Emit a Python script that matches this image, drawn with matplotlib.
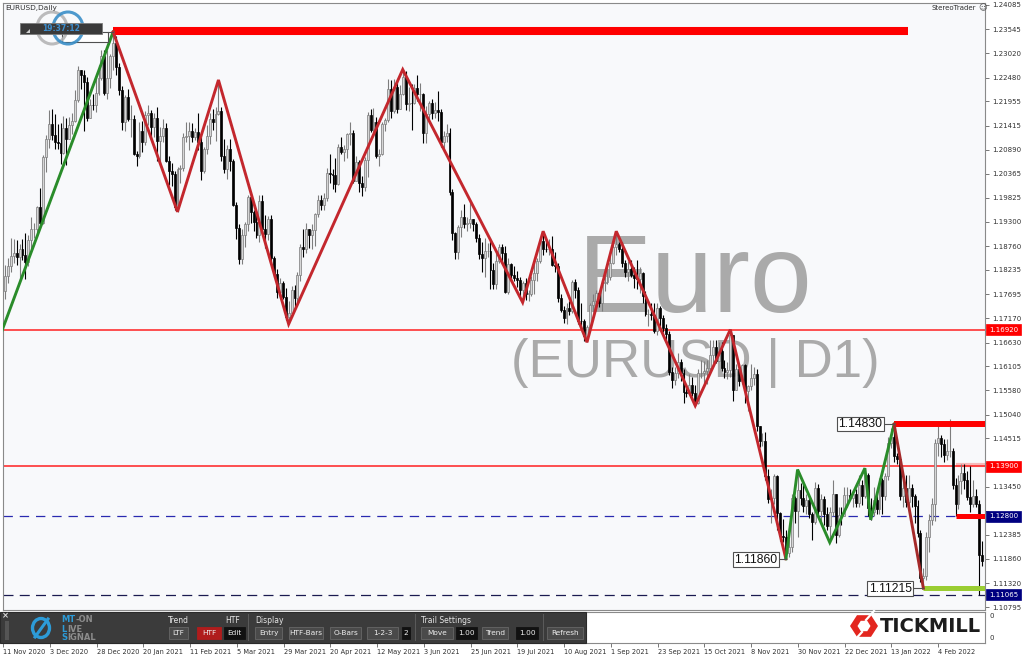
import matplotlib
matplotlib.use('Agg')
import matplotlib.pyplot as plt
import matplotlib.transforms as mtransforms
from matplotlib.patches import Rectangle, Ellipse, Polygon
import numpy as np

W, H = 1024, 658

# ---------------- data (EURUSD daily) ----------------
first_open = 1.1814
closes = [
    1.1777, 1.1811, 1.1833, 1.1855, 1.1860, 1.1852, 1.1870, 1.1857, 1.1841, 1.1890,
    1.1913, 1.1914, 1.1963, 1.1927, 1.2072, 1.2113, 1.2145, 1.2122, 1.2107, 1.2104,
    1.2081, 1.2136, 1.2112, 1.2144, 1.2152, 1.2198, 1.2266, 1.2255, 1.2238, 1.2160,
    1.2188, 1.2187, 1.2215, 1.2248, 1.2297, 1.2215, 1.2247, 1.2297, 1.2325, 1.2271,
    1.2221, 1.2151, 1.2206, 1.2156, 1.2157, 1.2080, 1.2076, 1.2131, 1.2106, 1.2165,
    1.2171, 1.2140, 1.2160, 1.2109, 1.2119, 1.2136, 1.2063, 1.2041, 1.2036, 1.1962,
    1.2046, 1.2048, 1.2118, 1.2120, 1.2131, 1.2118, 1.2128, 1.2105, 1.2041, 1.2091,
    1.2120, 1.2157, 1.2151, 1.2167, 1.2175, 1.2076, 1.2047, 1.2090, 1.2063, 1.1966,
    1.1916, 1.1847, 1.1900, 1.1926, 1.1985, 1.1952, 1.1930, 1.1900, 1.1976, 1.1915,
    1.1904, 1.1937, 1.1849, 1.1814, 1.1776, 1.1795, 1.1764, 1.1719, 1.1728, 1.1779,
    1.1762, 1.1813, 1.1874, 1.1870, 1.1914, 1.1900, 1.1911, 1.1947, 1.1979, 1.1966,
    1.1983, 1.2038, 1.2036, 1.2033, 1.2014, 1.2096, 1.2084, 1.2090, 1.2124, 1.2126,
    1.2020, 1.2062, 1.2015, 1.2006, 1.2066, 1.2165, 1.2133, 1.2150, 1.2075, 1.2079,
    1.2145, 1.2154, 1.2223, 1.2175, 1.2228, 1.2180, 1.2213, 1.2250, 1.2191, 1.2193,
    1.2192, 1.2226, 1.2212, 1.2213, 1.2127, 1.2167, 1.2192, 1.2170, 1.2177, 1.2173,
    1.2106, 1.2120, 1.2125, 1.1995, 1.1906, 1.1863, 1.1918, 1.1941, 1.1926, 1.1928,
    1.1936, 1.1925, 1.1894, 1.1858, 1.1850, 1.1865, 1.1866, 1.1823, 1.1792, 1.1844,
    1.1874, 1.1861, 1.1776, 1.1836, 1.1812, 1.1806, 1.1802, 1.1780, 1.1795, 1.1771,
    1.1771, 1.1801, 1.1816, 1.1843, 1.1888, 1.1870, 1.1869, 1.1869, 1.1835, 1.1833,
    1.1762, 1.1736, 1.1718, 1.1740, 1.1733, 1.1796, 1.1779, 1.1711, 1.1710, 1.1677,
    1.1697, 1.1747, 1.1755, 1.1773, 1.1751, 1.1795, 1.1797, 1.1808, 1.1840, 1.1875,
    1.1880, 1.1870, 1.1839, 1.1818, 1.1825, 1.1813, 1.1806, 1.1804, 1.1817, 1.1765,
    1.1726, 1.1727, 1.1725, 1.1688, 1.1740, 1.1718, 1.1696, 1.1683, 1.1598, 1.1580,
    1.1596, 1.1620, 1.1597, 1.1555, 1.1553, 1.1570, 1.1552, 1.1530, 1.1595, 1.1597,
    1.1601, 1.1608, 1.1636, 1.1654, 1.1623, 1.1645, 1.1608, 1.1599, 1.1603, 1.1680,
    1.1558, 1.1606, 1.1579, 1.1614, 1.1556, 1.1567, 1.1586, 1.1593, 1.1479, 1.1445,
    1.1445, 1.1368, 1.1319, 1.1320, 1.1368, 1.1288, 1.1237, 1.1234, 1.1199, 1.1212,
    1.1320, 1.1292, 1.1338, 1.1320, 1.1303, 1.1315, 1.1285, 1.1267, 1.1343, 1.1292,
    1.1317, 1.1285, 1.1258, 1.1290, 1.1328, 1.1238, 1.1282, 1.1281, 1.1327, 1.1327,
    1.1320, 1.1328, 1.1310, 1.1349, 1.1325, 1.1370, 1.1297, 1.1289, 1.1315, 1.1296,
    1.1360, 1.1325, 1.1368, 1.1442, 1.1454, 1.1413, 1.1407, 1.1325, 1.1343, 1.1311,
    1.1343, 1.1325, 1.1302, 1.1242, 1.1143, 1.1147, 1.1235, 1.1271, 1.1306, 1.1441,
    1.1453, 1.1440, 1.1416, 1.1423, 1.1425, 1.1348, 1.1307, 1.1358, 1.1376, 1.1360,
    1.1322, 1.1306, 1.1325, 1.1307, 1.1195, 1.1180]
highs = [
    1.1820, 1.1835, 1.1850, 1.1894, 1.1892, 1.1890, 1.1880, 1.1891, 1.1905, 1.1900,
    1.1941, 1.1927, 1.1964, 1.2004, 1.2077, 1.2121, 1.2176, 1.2178, 1.2167, 1.2146,
    1.2147, 1.2163, 1.2160, 1.2162, 1.2169, 1.2220, 1.2273, 1.2262, 1.2265, 1.2250,
    1.2201, 1.2212, 1.2249, 1.2276, 1.2310, 1.2310, 1.2310, 1.2300, 1.2349, 1.2340,
    1.2280, 1.2230, 1.2210, 1.2222, 1.2188, 1.2165, 1.2087, 1.2150, 1.2152, 1.2174,
    1.2188, 1.2176, 1.2170, 1.2183, 1.2140, 1.2157, 1.2148, 1.2075, 1.2060, 1.2043,
    1.2050, 1.2055, 1.2125, 1.2150, 1.2150, 1.2148, 1.2138, 1.2169, 1.2116, 1.2096,
    1.2144, 1.2170, 1.2180, 1.2183, 1.2243, 1.2183, 1.2113, 1.2100, 1.2113, 1.2068,
    1.1973, 1.1925, 1.1913, 1.1930, 1.1990, 1.1990, 1.1955, 1.1954, 1.1989, 1.1990,
    1.1944, 1.1942, 1.1944, 1.1854, 1.1826, 1.1805, 1.1800, 1.1783, 1.1755, 1.1788,
    1.1790, 1.1820, 1.1880, 1.1914, 1.1927, 1.1912, 1.1925, 1.1950, 1.1990, 1.1990,
    1.1994, 1.2048, 1.2080, 1.2047, 1.2070, 1.2102, 1.2117, 1.2100, 1.2127, 1.2150,
    1.2132, 1.2076, 1.2067, 1.2030, 1.2073, 1.2173, 1.2180, 1.2182, 1.2161, 1.2090,
    1.2150, 1.2160, 1.2245, 1.2244, 1.2245, 1.2243, 1.2232, 1.2266, 1.2262, 1.2227,
    1.2233, 1.2233, 1.2254, 1.2236, 1.2215, 1.2185, 1.2196, 1.2200, 1.2195, 1.2219,
    1.2180, 1.2130, 1.2145, 1.2138, 1.2003, 1.1908, 1.1922, 1.1955, 1.1970, 1.1940,
    1.1975, 1.1937, 1.1929, 1.1903, 1.1885, 1.1895, 1.1882, 1.1895, 1.1838, 1.1868,
    1.1880, 1.1880, 1.1876, 1.1849, 1.1838, 1.1832, 1.1822, 1.1808, 1.1800, 1.1805,
    1.1780, 1.1810, 1.1840, 1.1849, 1.1893, 1.1909, 1.1893, 1.1892, 1.1899, 1.1864,
    1.1840, 1.1770, 1.1744, 1.1750, 1.1754, 1.1802, 1.1804, 1.1787, 1.1750, 1.1716,
    1.1701, 1.1750, 1.1770, 1.1780, 1.1776, 1.1802, 1.1810, 1.1846, 1.1857, 1.1880,
    1.1909, 1.1885, 1.1885, 1.1846, 1.1844, 1.1846, 1.1830, 1.1845, 1.1830, 1.1820,
    1.1778, 1.1738, 1.1750, 1.1750, 1.1750, 1.1745, 1.1725, 1.1705, 1.1688, 1.1610,
    1.1610, 1.1640, 1.1626, 1.1606, 1.1571, 1.1594, 1.1587, 1.1570, 1.1604, 1.1624,
    1.1623, 1.1624, 1.1670, 1.1668, 1.1669, 1.1665, 1.1665, 1.1625, 1.1620, 1.1692,
    1.1680, 1.1617, 1.1615, 1.1617, 1.1616, 1.1569, 1.1616, 1.1609, 1.1606, 1.1480,
    1.1463, 1.1465, 1.1385, 1.1340, 1.1374, 1.1372, 1.1290, 1.1274, 1.1250, 1.1230,
    1.1330, 1.1324, 1.1383, 1.1353, 1.1350, 1.1330, 1.1320, 1.1290, 1.1355, 1.1350,
    1.1328, 1.1325, 1.1300, 1.1300, 1.1360, 1.1330, 1.1300, 1.1300, 1.1345, 1.1345,
    1.1340, 1.1335, 1.1340, 1.1370, 1.1360, 1.1386, 1.1375, 1.1320, 1.1345, 1.1333,
    1.1365, 1.1365, 1.1375, 1.1455, 1.1475, 1.1483, 1.1420, 1.1410, 1.1360, 1.1370,
    1.1370, 1.1350, 1.1330, 1.1315, 1.1250, 1.1165, 1.1245, 1.1285, 1.1320, 1.1450,
    1.1483, 1.1460, 1.1450, 1.1450, 1.1495, 1.1430, 1.1365, 1.1370, 1.1395, 1.1395,
    1.1380, 1.1390, 1.1360, 1.1340, 1.1315, 1.1225]
lows = [
    1.1745, 1.1760, 1.1795, 1.1820, 1.1838, 1.1835, 1.1800, 1.1845, 1.1803, 1.1832,
    1.1870, 1.1895, 1.1905, 1.1923, 1.1925, 1.2040, 1.2093, 1.2110, 1.2090, 1.2090,
    1.2058, 1.2080, 1.2055, 1.2116, 1.2123, 1.2150, 1.2195, 1.2224, 1.2130, 1.2153,
    1.2160, 1.2176, 1.2172, 1.2210, 1.2242, 1.2210, 1.2200, 1.2225, 1.2265, 1.2255,
    1.2210, 1.2132, 1.2130, 1.2152, 1.2117, 1.2077, 1.2054, 1.2070, 1.2083, 1.2100,
    1.2143, 1.2118, 1.2118, 1.2063, 1.2058, 1.2106, 1.2062, 1.2011, 1.2008, 1.1957,
    1.1952, 1.2015, 1.2043, 1.2107, 1.2089, 1.2106, 1.2110, 1.2089, 1.2022, 1.2037,
    1.2080, 1.2101, 1.2133, 1.2109, 1.2165, 1.2063, 1.2037, 1.2025, 1.2041, 1.1964,
    1.1893, 1.1836, 1.1836, 1.1874, 1.1910, 1.1928, 1.1910, 1.1895, 1.1885, 1.1903,
    1.1873, 1.1890, 1.1840, 1.1808, 1.1761, 1.1762, 1.1760, 1.1712, 1.1704, 1.1720,
    1.1741, 1.1745, 1.1800, 1.1852, 1.1861, 1.1871, 1.1870, 1.1876, 1.1940, 1.1957,
    1.1955, 1.1975, 1.2016, 1.2003, 1.1995, 1.2012, 1.2080, 1.2065, 1.2071, 1.2100,
    1.2015, 1.2021, 1.1995, 1.1986, 1.1997, 1.2029, 1.2128, 1.2119, 1.2070, 1.2052,
    1.2077, 1.2130, 1.2150, 1.2160, 1.2170, 1.2170, 1.2180, 1.2210, 1.2176, 1.2175,
    1.2133, 1.2190, 1.2196, 1.2175, 1.2104, 1.2103, 1.2155, 1.2156, 1.2159, 1.2152,
    1.2095, 1.2093, 1.2105, 1.1988, 1.1890, 1.1847, 1.1848, 1.1897, 1.1917, 1.1910,
    1.1916, 1.1909, 1.1885, 1.1848, 1.1820, 1.1807, 1.1853, 1.1782, 1.1782, 1.1782,
    1.1838, 1.1838, 1.1772, 1.1771, 1.1800, 1.1800, 1.1786, 1.1763, 1.1752, 1.1758,
    1.1754, 1.1765, 1.1770, 1.1800, 1.1838, 1.1857, 1.1864, 1.1856, 1.1832, 1.1820,
    1.1753, 1.1730, 1.1706, 1.1705, 1.1725, 1.1728, 1.1761, 1.1705, 1.1700, 1.1666,
    1.1664, 1.1692, 1.1731, 1.1734, 1.1741, 1.1734, 1.1778, 1.1793, 1.1801, 1.1836,
    1.1857, 1.1863, 1.1830, 1.1807, 1.1800, 1.1808, 1.1784, 1.1782, 1.1773, 1.1750,
    1.1722, 1.1700, 1.1713, 1.1685, 1.1680, 1.1700, 1.1686, 1.1667, 1.1592, 1.1563,
    1.1570, 1.1586, 1.1579, 1.1529, 1.1544, 1.1549, 1.1546, 1.1524, 1.1528, 1.1585,
    1.1572, 1.1571, 1.1600, 1.1618, 1.1618, 1.1623, 1.1600, 1.1586, 1.1582, 1.1587,
    1.1535, 1.1560, 1.1568, 1.1572, 1.1529, 1.1513, 1.1559, 1.1570, 1.1467, 1.1432,
    1.1436, 1.1360, 1.1310, 1.1264, 1.1306, 1.1250, 1.1226, 1.1224, 1.1186, 1.1190,
    1.1202, 1.1265, 1.1235, 1.1305, 1.1290, 1.1285, 1.1275, 1.1227, 1.1262, 1.1280,
    1.1265, 1.1260, 1.1250, 1.1222, 1.1280, 1.1220, 1.1235, 1.1260, 1.1280, 1.1300,
    1.1315, 1.1300, 1.1300, 1.1300, 1.1305, 1.1320, 1.1280, 1.1272, 1.1280, 1.1285,
    1.1285, 1.1285, 1.1315, 1.1360, 1.1430, 1.1400, 1.1395, 1.1315, 1.1300, 1.1300,
    1.1305, 1.1300, 1.1265, 1.1235, 1.1135, 1.1121, 1.1140, 1.1200, 1.1260, 1.1270,
    1.1412, 1.1410, 1.1400, 1.1405, 1.1410, 1.1340, 1.1280, 1.1295, 1.1330, 1.1340,
    1.1315, 1.1290, 1.1300, 1.1300, 1.1106, 1.1170]

date_labels = ["11 Nov 2020", "3 Dec 2020", "28 Dec 2020", "20 Jan 2021", "11 Feb 2021",
               "5 Mar 2021", "29 Mar 2021", "20 Apr 2021", "12 May 2021", "3 Jun 2021",
               "25 Jun 2021", "19 Jul 2021", "10 Aug 2021", "1 Sep 2021", "23 Sep 2021",
               "15 Oct 2021", "8 Nov 2021", "30 Nov 2021", "22 Dec 2021", "13 Jan 2022",
               "4 Feb 2022"]
date_tick_bars = list(range(0, 321, 16))

price_ticks = [1.24085, 1.23545, 1.23020, 1.22480, 1.21955, 1.21415, 1.20890, 1.20365,
               1.19825, 1.19300, 1.18760, 1.18235, 1.17695, 1.17170, 1.16630, 1.16105,
               1.15580, 1.15040, 1.14515, 1.13985, 1.13450, 1.12910, 1.12385, 1.11860,
               1.11320, 1.10795]
hidden_ticks = [1.13985, 1.12910]   # covered by the level price boxes

# zigzag pivots (bar index, price)
green1_bars, green1_px = [-5, 38], [1.1603, 1.2349]
red1_bars = [38, 60, 74, 98, 137, 178, 185, 200, 210, 237, 249, 268]
red1_px = [1.2349, 1.1952, 1.2243, 1.1704, 1.2266, 1.1752, 1.1909, 1.1664, 1.1909, 1.1524, 1.1692, 1.1186]
green2_bars = [268, 272, 283, 295, 297, 305]
green2_px = [1.1186, 1.1383, 1.1222, 1.1386, 1.1272, 1.1483]
red2_bars, red2_px = [305, 315], [1.1483, 1.1121]

red_levels = [1.16920, 1.13900]
blue_level = 1.12800
low_level = 1.11065

# ---------------- figure ----------------
fig = plt.figure(figsize=(W / 100, H / 100), dpi=100, facecolor='white')

def fx(x):
    return x / W

def fy(y):
    return 1 - y / H

X0, X1 = 0.34, 336.07
ax = fig.add_axes([fx(3), fy(610), fx(982), 607 / H])
ax.set_facecolor('#f8f9fb')
ax.set_xlim(X0, X1)
ax.set_ylim(1.10729, 1.24129)
for s in ax.spines.values():
    s.set_color('#8a8a8a')
    s.set_linewidth(0.8)
ax.tick_params(axis='x', bottom=False, labelbottom=False)
ax.yaxis.tick_right()
ax.set_yticks(price_ticks)
ax.set_yticklabels(['' if t in hidden_ticks else f'{t:.5f}' for t in price_ticks])
ax.tick_params(axis='y', length=3, width=0.6, color='#606060', labelsize=5,
               labelcolor='#303030', pad=2)

n = len(closes)
c = np.array(closes)
o = np.array([first_open] + closes[:-1])
hi = np.maximum(np.array(highs), np.maximum(o, c))
lo = np.minimum(np.array(lows), np.minimum(o, c))
x = np.arange(n)
bull = c >= o
bottom = np.minimum(o, c)
height = np.maximum(np.abs(c - o), 0.00007)

# watermark
ax.text(237, 1.1731, 'Euro', ha='center', va='baseline', fontsize=80,
        family='Liberation Sans', color='#aaaaaa', zorder=0.5)
ax.text(237, 1.1588, '(EURUSD | D1)', ha='center', va='baseline', fontsize=38,
        family='Liberation Sans', color='#aaaaaa', zorder=0.5)

# horizontal level lines
for lv in red_levels:
    ax.axhline(lv, color='#ff2020', lw=1.1, zorder=1.2)
ax.plot([326, X1], [1.1393, 1.1393], color='#f6b8b8', lw=3, zorder=1.1, solid_capstyle='butt')
ax.axhline(blue_level, color='#2a2ab0', lw=0.9, ls=(0, (7.5, 5.5)), zorder=1.2)
ax.axhline(low_level, color='#1a1a50', lw=0.9, ls=(0, (8, 5)), zorder=1.2)

# candles
ax.vlines(x[bull], lo[bull], hi[bull], color='#7d7d7d', lw=0.8, zorder=2)
ax.vlines(x[~bull], lo[~bull], hi[~bull], color='black', lw=0.8, zorder=2)
ax.bar(x[bull], height[bull], bottom=bottom[bull], width=0.66, color='#d6d6d6',
       edgecolor='#7a7a7a', linewidth=0.5, zorder=2.1)
ax.bar(x[~bull], height[~bull], bottom=bottom[~bull], width=0.66, color='black',
       edgecolor='black', linewidth=0.5, zorder=2.1)

# thick level bars
ax.plot([38, 309.7], [1.2351, 1.2351], color='#ff0000', lw=5.8, solid_capstyle='butt', zorder=3)
ax.plot([305, X1], [1.14843, 1.14843], color='#ff0000', lw=4.3, solid_capstyle='butt', zorder=3)
ax.plot([326, X1], [blue_level, blue_level], color='#ff0000', lw=3.6, solid_capstyle='butt', zorder=3)
ax.plot([315, X1], [1.1122, 1.1122], color='#9acd32', lw=3.6, solid_capstyle='butt', zorder=3)

# zigzag
zz_kw = dict(lw=2.1, zorder=3.5, solid_joinstyle='miter')
ax.plot(green1_bars, green1_px, color='#2a8c2a', **zz_kw)
ax.plot(red1_bars, red1_px, color='#c3272d', **zz_kw)
ax.plot(green2_bars, green2_px, color='#2a8c2a', **zz_kw)
ax.plot(red2_bars, red2_px, color='#a52a2a', **zz_kw)

# pivot labels
def pivot_label(txt, right_bar, ty, pivot_bar, py):
    ax.plot([right_bar + 0.4, pivot_bar], [py, py], color='#505050', lw=0.8, zorder=5)
    ax.text(right_bar, ty, txt, ha='right', va='center', fontsize=8.8, family='Liberation Sans',
            color='#111111', zorder=6,
            bbox=dict(boxstyle='square,pad=0.12', fc='white', ec='#505050', lw=0.8))

pivot_label('1.14830', 301.0, 1.14835, 305, 1.1483)
pivot_label('1.11860', 265.1, 1.1184, 268, 1.1186)
pivot_label('1.11215', 311.0, 1.1120, 315, 1.11215)
# label box of the top pivot, mostly hidden behind the clock
ax.plot([36.2, 38], [1.2349, 1.2349], color='#505050', lw=0.8, zorder=5)
ax.add_patch(Rectangle((20.5, 1.23265), 15.7, 0.0023, fc='white', ec='#505050', lw=0.8, zorder=6))

# right-hand price boxes
btrans = mtransforms.blended_transform_factory(ax.transAxes, ax.transData)
for val, col in [(1.16920, '#ff0000'), (1.13900, '#ff0000'), (1.12800, '#000080'), (1.11065, '#000080')]:
    ax.text(1 + 4.0 / 982, val, f'{val:.5f}', transform=btrans, ha='left', va='center',
            fontsize=5, color='white', clip_on=False, zorder=8,
            bbox=dict(boxstyle='square,pad=0.38', fc=col, ec=col, lw=0.5))

# ---------------- sub window ----------------
ax2 = fig.add_axes([fx(3), fy(643), fx(982), 31 / H])
ax2.set_facecolor('white')
ax2.set_xlim(X0, X1)
ax2.set_ylim(0, 1)
ax2.set_yticks([])
for s in ax2.spines.values():
    s.set_color('#8a8a8a')
    s.set_linewidth(0.8)
ax2.set_xticks(date_tick_bars)
ax2.set_xticklabels(date_labels)
ax2.tick_params(axis='x', length=3, width=0.6, color='#606060', labelsize=4.8,
                labelcolor='#303030', pad=1.5)
for lab in ax2.get_xticklabels():
    lab.set_horizontalalignment('left')

def frect(x0, y0, w, h, fc, ec='none', lw=0.0, z=10):
    fig.add_artist(Rectangle((fx(x0), fy(y0 + h)), w / W, h / H, transform=fig.transFigure,
                             fc=fc, ec=ec, lw=lw, zorder=z))

def ftext(x0, y0, s, **kw):
    kw.setdefault('zorder', 12)
    fig.text(fx(x0), fy(y0), s, **kw)

ftext(989, 616, '0', fontsize=5, color='#303030', va='center')
ftext(989, 638, '0', fontsize=5, color='#303030', va='center')

# toolbar
frect(0, 612, 586, 31, '#3b3b3b', ec='#2a2a2a', lw=0.8, z=10)
ftext(2, 616, '×', fontsize=6, color='#dddddd', va='center', weight='bold')
frect(5, 621, 4, 19, '#555555', z=11)
fig.add_artist(Ellipse((fx(41), fy(628)), 17 / W, 19 / H, transform=fig.transFigure,
                       fill=False, ec='#2d9bd7', lw=2.4, zorder=11))
fig.add_artist(plt.Line2D([fx(35), fx(48)], [fy(637), fy(619)], transform=fig.transFigure,
                          color='#2d9bd7', lw=2.2, zorder=11))
lk = dict(fontsize=6, weight='bold', va='center', zorder=12)
ftext(61, 620, 'MT', color='#2d9bd7', **lk)
ftext(75, 620, '-ON', color='#8c8c8c', **lk)
ftext(61, 629, 'L', color='#2d9bd7', **lk)
ftext(67, 629, 'IVE', color='#8c8c8c', **lk)
ftext(61, 638, 'S', color='#2d9bd7', **lk)
ftext(67, 638, 'IGNAL', color='#8c8c8c', **lk)

hk = dict(fontsize=5.5, color='#e6e6e6', va='center', zorder=12)
ftext(168, 620.5, 'Trend', **hk)
ftext(225, 620.5, 'HTF', **hk)
ftext(255, 620.5, 'Display', **hk)
ftext(421, 620.5, 'Trail Settings', **hk)
for sx in (248, 415, 543):
    frect(sx, 614, 1, 27, '#5a5a5a', z=11)

buttons = [(169, 19, 'LTF', '#4a4a4a'), (197, 24, 'HTF', '#b01c1c'), (224, 21, 'Edit', '#111111'),
           (255, 27, 'Entry', '#4a4a4a'), (289, 34, 'HTF-Bars', '#4a4a4a'), (330, 31, 'O-Bars', '#4a4a4a'),
           (367, 31, '1-2-3', '#4a4a4a'), (402, 8, '2', '#111111'), (421, 32, 'Move', '#4a4a4a'),
           (456, 21, '1.00', '#111111'), (482, 26, 'Trend', '#4a4a4a'), (516, 22, '1.00', '#111111'),
           (547, 36, 'Refresh', '#4a4a4a')]
for bx, bw, bt, bc in buttons:
    frect(bx, 627, bw, 12, bc, ec='#666666' if bc == '#4a4a4a' else bc, lw=0.6, z=11)
    ftext(bx + bw / 2, 633, bt, fontsize=5.3, color='#eeeeee', ha='center', va='center', zorder=12)

# Tickmill logo
def hexagon(cx, cy, rx, ry):
    ang = np.deg2rad(np.arange(0, 360, 60))
    return [(fx(cx + rx * np.cos(a)), fy(cy + ry * np.sin(a))) for a in ang]

fig.add_artist(Polygon(hexagon(864, 626, 14, 12.5), closed=True, transform=fig.transFigure,
                       fc='#e3261f', ec='none', zorder=11))
fig.add_artist(Polygon(hexagon(864, 626, 6.5, 6), closed=True, transform=fig.transFigure,
                       fc='white', ec='none', zorder=12))
fig.add_artist(plt.Line2D([fx(866), fx(874)], [fy(620), fy(611)], transform=fig.transFigure,
                          color='white', lw=1.6, zorder=12))
fig.add_artist(plt.Line2D([fx(854), fx(862)], [fy(641), fy(632)], transform=fig.transFigure,
                          color='white', lw=1.6, zorder=12))
ftext(880, 627, 'TICKMILL', fontsize=14, weight='bold', color='#1c1c1c', va='center', zorder=12)

# ---------------- top decorations ----------------
ftext(5, 8, 'EURUSD,Daily', fontsize=5.3, color='#303030', va='center')
ftext(976, 8, 'StereoTrader', fontsize=5, color='#303030', va='center', ha='right')
ftext(978, 8, '☺', fontsize=6, color='#505050', va='center')

fig.add_artist(Ellipse((fx(52), fy(28)), 30 / W, 32 / H, transform=fig.transFigure,
                       fill=False, ec='#b5b5b5', lw=2.2, zorder=9, alpha=0.9))
fig.add_artist(Ellipse((fx(68), fy(28)), 30 / W, 32 / H, transform=fig.transFigure,
                       fill=False, ec='#3a8fc8', lw=2.2, zorder=9, alpha=0.9))
frect(20, 23, 82, 11, '#3a3a3a', ec='#7a7a7a', lw=0.6, z=13)
fig.add_artist(Polygon([(fx(26), fy(33)), (fx(30), fy(33)), (fx(30), fy(29))], closed=True,
                       transform=fig.transFigure, fc='#cfcfcf', ec='none', zorder=14))
ftext(61, 28.5, '19:37:12', fontsize=5.5, color='#3d8fd0', ha='center', va='center',
      weight='bold', zorder=14)

fig.savefig('out.png', dpi=100, facecolor='white')
